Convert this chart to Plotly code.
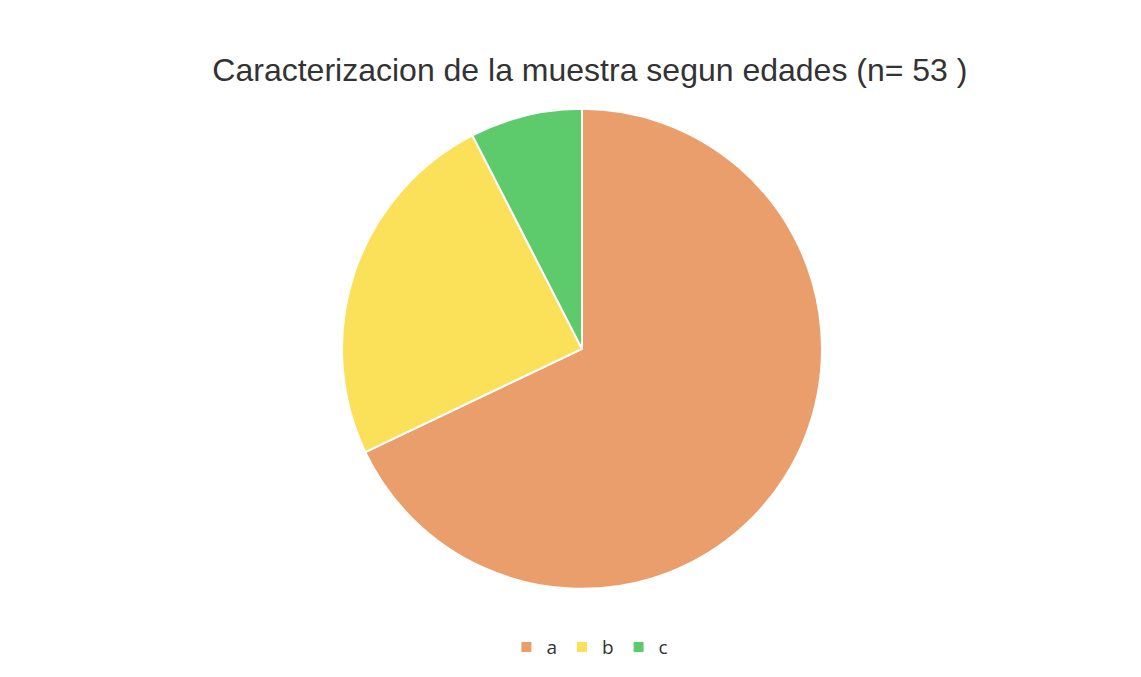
import plotly.graph_objects as go

# age groups and counts (n = 53)
labels = ["a", "b", "c"]
counts = [36, 13, 4]
colors = ["#EA9E6C", "#FBE05A", "#5DCB6B"]

fig = go.Figure(
    go.Pie(
        labels=labels,
        values=counts,
        sort=False,
        direction="clockwise",
        rotation=0,
        textinfo="none",
        hoverinfo="label+value+percent",
        marker=dict(colors=colors, line=dict(color="white", width=2)),
        domain=dict(x=[0.2927, 0.7134], y=[0.142, 0.851]),
    )
)

fig.update_layout(
    width=1141,
    height=677,
    margin=dict(l=0, r=0, t=0, b=0),
    paper_bgcolor="white",
    plot_bgcolor="white",
    title=dict(
        text="Caracterizacion de la muestra segun edades (n= 53 )",
        x=0.51,
        xanchor="center",
        y=0.909,
        yanchor="middle",
        font=dict(family="Liberation Sans, Arial, sans-serif", size=32, color="#333333"),
    ),
    legend=dict(
        orientation="h",
        x=0.51,
        xanchor="center",
        y=0.056,
        yanchor="middle",
        font=dict(family="Open Sans, sans-serif", size=19, color="#333333"),
        itemwidth=30,
    ),
)

fig.write_html("out.html")
